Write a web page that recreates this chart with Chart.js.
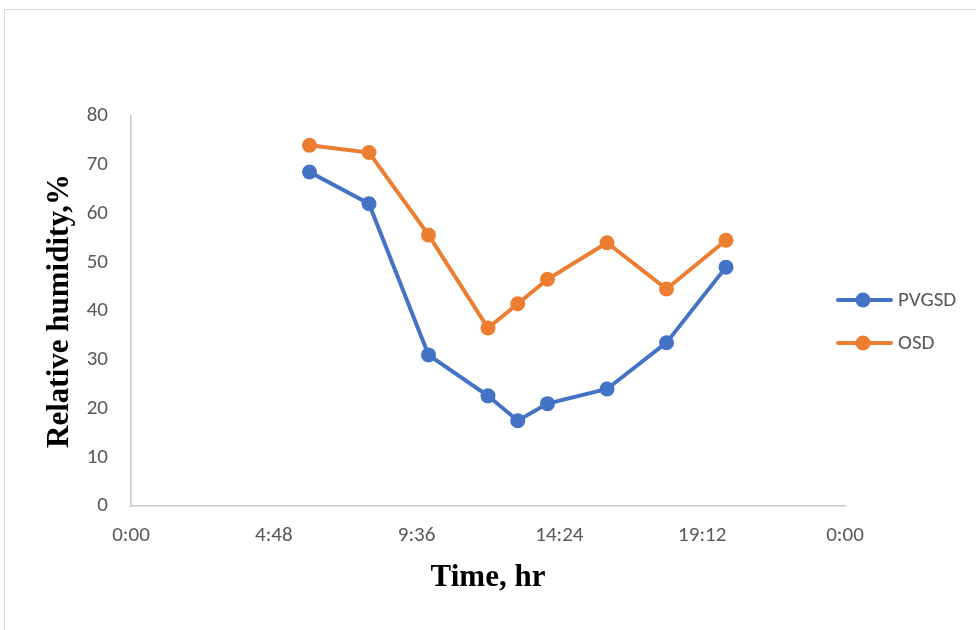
<html>
<head>
<title>Relative humidity</title>
<script src="https://cdn.jsdelivr.net/npm/chart.js"></script>
<style>
    body { margin: 0; background: #fff; }
    #wrap { position: relative; width: 976px; height: 630px; overflow: hidden; }
    #frame { position: absolute; left: 4px; top: 9px; width: 990px; height: 640px; border: 1px solid #d9d9d9; }
    #myChart { position: absolute; left: 0; top: 0; }
</style>
</head>
<body>
<div id="wrap">
    <div id="frame"></div>
    <canvas id="myChart" width="976" height="630"></canvas>
</div>

<script>
// time of day in hours
const hours = [6, 8, 10, 12, 13, 14, 16, 18, 20];
const pvgsd = [68.5, 62, 31, 22.6, 17.5, 21, 24, 33.5, 49];
const osd = [74, 72.5, 55.6, 36.5, 41.5, 46.5, 54, 44.5, 54.5];

const seriesNames = ["PVGSD", "OSD"];
const seriesColors = ["#4472C4", "#ED7D31"];

const TICK_FONT = "Carlito, 'Open Sans', sans-serif";
const TITLE_FONT = "'Liberation Serif', 'Times New Roman', serif";

toPoints = function(ys){
    let pts = [];
    for (let i = 0; i < hours.length; i++){
        pts.push({x: hours[i], y: ys[i]});
    }
    return pts;
}

hhmm = function(v){
    let mins = Math.round(v * 60) % (24 * 60);
    let h = Math.floor(mins / 60);
    let m = mins % 60;
    return h + ":" + (m < 10 ? "0" : "") + m;
}

// excel style legend: line with a dot, on the right
const sideLegend = {
    id: "sideLegend",
    afterDraw(chart){
        const ctx = chart.ctx;
        const x0 = chart.chartArea.right - 7;
        const rows = [300, 343];
        ctx.save();
        for (let i = 0; i < seriesNames.length; i++){
            const y = rows[i];
            ctx.strokeStyle = seriesColors[i];
            ctx.lineWidth = 4;
            ctx.lineCap = "round";
            ctx.beginPath();
            ctx.moveTo(x0, y);
            ctx.lineTo(x0 + 53, y);
            ctx.stroke();
            ctx.fillStyle = seriesColors[i];
            ctx.beginPath();
            ctx.arc(x0 + 25, y, 7.5, 0, Math.PI * 2);
            ctx.fill();
            ctx.fillStyle = "#595959";
            ctx.font = "21px " + TICK_FONT;
            ctx.textBaseline = "middle";
            ctx.fillText(seriesNames[i], x0 + 60, y + 1);
        }
        ctx.restore();
    }
};

new Chart("myChart", {
    type: "line",
    data: {
        datasets: [{
            label: seriesNames[0],
            data: toPoints(pvgsd),
            borderColor: seriesColors[0],
            backgroundColor: seriesColors[0],
            borderWidth: 4,
            pointRadius: 7.5,
            pointBorderWidth: 0,
            lineTension: 0,
            fill: false
        }, {
            label: seriesNames[1],
            data: toPoints(osd),
            borderColor: seriesColors[1],
            backgroundColor: seriesColors[1],
            borderWidth: 4,
            pointRadius: 7.5,
            pointBorderWidth: 0,
            lineTension: 0,
            fill: false
        }]
    },
    options: {
        responsive: false,
        animation: false,
        layout: { padding: { left: 0, right: 131, top: 116, bottom: 0 } },
        plugins: {
            legend: { display: false },
            tooltip: { enabled: false }
        },
        scales: {
            x: {
                type: "linear",
                min: 0,
                max: 24,
                afterBuildTicks: (s) => {
                    s.ticks = [0, 4.8, 9.6, 14.4, 19.2, 24].map(v => ({value: v}));
                },
                afterFit: (s) => { s.height = 124; },
                grid: { display: false, drawTicks: false },
                border: { color: "#c8c8c8", width: 1.5 },
                ticks: {
                    color: "#595959",
                    padding: 17,
                    maxRotation: 0,
                    font: { family: TICK_FONT, size: 21 },
                    callback: (v) => hhmm(v)
                },
                title: {
                    display: true,
                    text: "Time, hr",
                    color: "#000",
                    font: { family: TITLE_FONT, size: 31, weight: "bold" },
                    padding: { top: 0, bottom: 33 }
                }
            },
            y: {
                min: 0,
                max: 80,
                afterFit: (s) => { s.width = 131; },
                grid: { display: false, drawTicks: false },
                border: { color: "#c8c8c8", width: 1.5 },
                ticks: {
                    stepSize: 10,
                    color: "#595959",
                    padding: 23,
                    font: { family: TICK_FONT, size: 21 }
                },
                title: {
                    display: true,
                    text: "Relative humidity,%",
                    color: "#000",
                    font: { family: TITLE_FONT, size: 31, weight: "bold" },
                    padding: { top: 41, bottom: 0 }
                }
            }
        }
    },
    plugins: [sideLegend]
});
</script>
</body>
</html>
